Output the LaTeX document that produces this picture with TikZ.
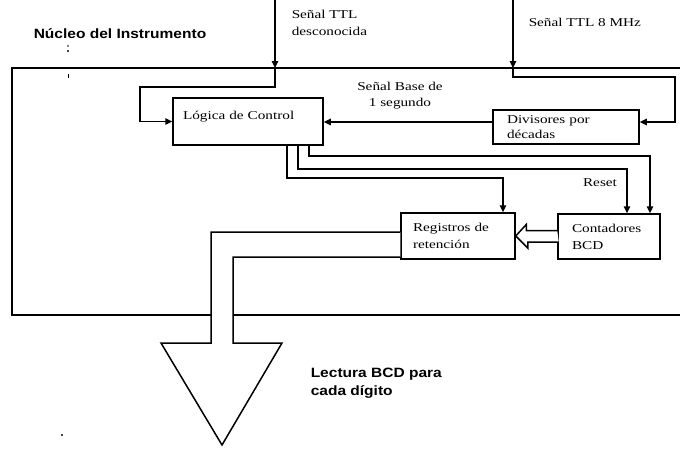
\documentclass[tikz,border=0pt]{standalone}
\usepackage{fontspec}
\setmainfont{Liberation Serif}
\newfontfamily\srf[FakeStretch=1.27]{Liberation Serif}
\newfontfamily\sns[FakeStretch=1.15]{Liberation Sans}
\usetikzlibrary{arrows.meta,calc}
\begin{document}
\begin{tikzpicture}[x=1pt,y=-1pt,
  line width=1.5pt, line join=miter,
  arr/.style={-{Triangle[length=7pt,width=6.5pt]}},
  blk/.style={draw, rectangle, fill=white, font=\srf\fontsize{12}{17}\selectfont, align=left, inner ysep=0pt},
  lbl/.style={font=\srf\fontsize{12}{17}\selectfont, inner sep=0pt},
  bold/.style={font=\sns\bfseries\fontsize{13.5}{18}\selectfont, align=left, inner sep=0pt},
  speck/.style={fill=black, draw=none}]
\useasboundingbox (0,0) rectangle (680,448);

% outer frame of the instrument core (open on the right)
\coordinate (tl) at (12,68);
\coordinate (tr) at (680,68);
\coordinate (bl) at (12,315);
\coordinate (br) at (680,315);
\draw (tr) -- (tl) -- (bl) -- (br);

% blocks
\node[blk, minimum width=150pt, minimum height=47pt, inner xsep=10pt, text width=130pt,
      text height=9pt, text depth=14pt] (logica) at (248,121.5) {Lógica de Control};
\node[blk, minimum width=146pt, minimum height=34pt, inner xsep=14pt, text width=118pt,
      font=\srf\fontsize{12}{15}\selectfont] (divisores) at (566,127) {Divisores por\\décadas};
\node[blk, minimum width=114pt, minimum height=46pt, inner xsep=12pt, text width=90pt] (registros) at (458,236) {Registros de\\retención};
\node[blk, minimum width=102pt, minimum height=45pt, inner xsep=14pt, text width=74pt] (contadores) at (609,236.5) {Contadores\\BCD};

% labels
\node[bold, anchor=base west] (nucleo) at (33,38) {Núcleo del Instrumento};
\node[lbl, align=left, anchor=north west] (desc) at (291,9) {Señal TTL\\desconocida};
\node[lbl, anchor=west] (mhz) at (528,22) {Señal TTL 8 MHz};
\node[lbl, align=center, font=\srf\fontsize{12}{16}\selectfont] (base) at (400,96) {Señal Base de\\1 segundo};
\node[lbl] (reset) at (600,183) {Reset};
\node[bold, anchor=north west] (lectura) at (310,367) {Lectura BCD para\\cada dígito};

% unknown TTL input
\coordinate (in1) at (275,0);
\coordinate (j1) at (275,68);
\draw[arr] (in1) -- (j1);
\draw[arr] (j1) -- (275,87) -- (140,87) |- (logica.west);

% 8 MHz input
\coordinate (in2) at (513,0);
\coordinate (j2) at (513,68);
\draw[arr] (in2) -- (j2);
\draw[arr] (j2) -- (513,77) -- (675,77) |- ([yshift=5pt]divisores.east);

% 1 s time base
\draw[arr] ([yshift=5pt]divisores.west) -- ([yshift=5pt]divisores.west -| logica.east);

% control lines
\draw[arr] ([xshift=39pt]logica.south) -- ++(0,32) -| ([xshift=45pt]registros.north);
\draw[arr] ([xshift=50pt]logica.south) -- ++(0,23) -| ([xshift=18pt]contadores.north);
\draw[arr] ([xshift=61pt]logica.south) -- ++(0,10) -| ([xshift=41pt]contadores.north);

% hollow bus arrow contadores -> registros
\draw[fill=white] ([yshift=6pt]contadores.west) -- ++(-31,0) -- ++(0,-6) -- (registros.east)
  -- ++(12,12) -- ++(0,-6) -- ++(31,0);

% big output arrow
\draw[fill=white] ([yshift=4pt]registros.west) -- (211,232) -- (211,343) -- (161,343) -- (222,445)
  -- (282,343) -- (233,343) -- (233,257) -- ([yshift=-21pt]registros.west);

% specks of the scan
\fill[speck] (68,46) circle (0.8);
\fill[speck] (68,51) circle (1.1);
\fill[speck] (67.5,74) rectangle (68.7,78);
\fill[speck] (62,435) circle (1.1);
\end{tikzpicture}
\end{document}
